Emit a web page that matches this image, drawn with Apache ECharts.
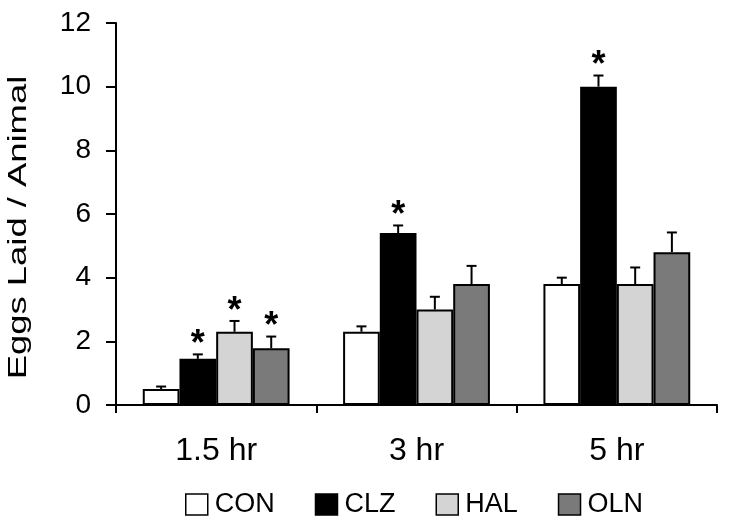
<!DOCTYPE html>
<html>
<head>
<meta charset="utf-8">
<script src="https://cdn.jsdelivr.net/npm/echarts@6/dist/echarts.min.js"></script>
<style>html,body{margin:0;padding:0;background:#fff}#c{width:729px;height:520px}</style>
</head>
<body>
<div id="c"></div>
<script>
var categories = ['1.5 hr', '3 hr', '5 hr'];
var treatments = ['CON', 'CLZ', 'HAL', 'OLN'];
var conValues = [0.5, 2.3, 3.8];
var clzValues = [1.45, 5.4, 10.0];
var halValues = [2.3, 3.0, 3.8];
var olnValues = [1.78, 3.8, 4.8];
var conErr = [0.08, 0.17, 0.2];
var clzErr = [0.14, 0.24, 0.35];
var halErr = [0.34, 0.4, 0.52];
var olnErr = [0.37, 0.57, 0.62];
var conSig = [0, 0, 0];
var clzSig = [1, 1, 1];
var halSig = [1, 0, 0];
var olnSig = [1, 0, 0];
var yTicks = [0, 2, 4, 6, 8, 10, 12];
var yTitle = 'Eggs Laid / Animal';

var colors = ['#ffffff', '#000000', '#d4d4d4', '#7a7a7a'];
var values = [conValues, clzValues, halValues, olnValues];
var errs = [conErr, clzErr, halErr, olnErr];
var sigs = [conSig, clzSig, halSig, olnSig];
var BAR_W = 36.7;
var FONT = '"Liberation Sans", Arial, sans-serif';

var series = [];
treatments.forEach(function (name, i) {
  series.push({
    name: name,
    type: 'bar',
    data: values[i],
    barWidth: BAR_W,
    barGap: '0%',
    itemStyle: { color: colors[i], borderColor: '#000', borderWidth: 2 },
    z: 2
  });
});
treatments.forEach(function (name, i) {
  var data = values[i].map(function (v, k) { return [k, v, errs[i][k], sigs[i][k]]; });
  series.push({
    type: 'custom',
    name: name + '_err',
    data: data,
    z: 3,
    silent: true,
    renderItem: function (params, api) {
      var cat = api.value(0), v = api.value(1), e = api.value(2), s = api.value(3);
      var base = api.coord([cat, v]);
      var top = api.coord([cat, v + e]);
      var x = base[0] + (i - 1.5) * BAR_W;
      var children = [
        { type: 'line', shape: { x1: x, y1: base[1], x2: x, y2: top[1] }, style: { stroke: '#000', lineWidth: 2 } },
        { type: 'line', shape: { x1: x - 5, y1: top[1], x2: x + 5, y2: top[1] }, style: { stroke: '#000', lineWidth: 2 } }
      ];
      if (s) {
        children.push({ type: 'text', style: { text: '*', x: x, y: top[1] - 9, textAlign: 'center', textVerticalAlign: 'middle', font: 'bold 36px ' + FONT, fill: '#000' } });
      }
      return { type: 'group', children: children };
    }
  });
});

var chart = echarts.init(document.getElementById('c'));
chart.setOption({
  animation: false,
  backgroundColor: '#fff',
  grid: { left: 116, right: 12, top: 23, bottom: 115, containLabel: false },
  graphic: [{
    type: 'text',
    x: 18.6, y: 227.5,
    rotation: Math.PI / 2,
    scaleX: 1.4, scaleY: 1,
    style: { text: yTitle, font: '26px ' + FONT, fill: '#000', textAlign: 'center', textVerticalAlign: 'middle' }
  }],
  legend: {
    data: treatments,
    left: 180,
    top: 486,
    itemWidth: 22,
    itemHeight: 21,
    itemGap: 40,
    icon: 'rect',
    itemStyle: { borderColor: '#000', borderWidth: 1.5 },
    textStyle: { fontFamily: FONT, fontSize: 27, color: '#000', padding: [0, 0, 0, 2] }
  },
  xAxis: {
    type: 'category',
    data: categories,
    axisLine: { lineStyle: { color: '#000', width: 2 } },
    axisTick: { show: true, length: 8, lineStyle: { color: '#000', width: 2 }, alignWithLabel: false },
    axisLabel: { fontFamily: FONT, fontSize: 32, color: '#000', margin: 30 }
  },
  yAxis: {
    type: 'value',
    min: 0, max: 12, interval: 2,
    axisLine: { show: true, lineStyle: { color: '#000', width: 2 } },
    axisTick: { show: true, length: 10, lineStyle: { color: '#000', width: 2 } },
    splitLine: { show: false },
    axisLabel: { fontFamily: FONT, fontSize: 28, color: '#000', margin: 25,
      formatter: function (v) { return yTicks.indexOf(v) >= 0 ? String(v) : ''; } }
  },
  series: series
});
</script>
</body>
</html>
